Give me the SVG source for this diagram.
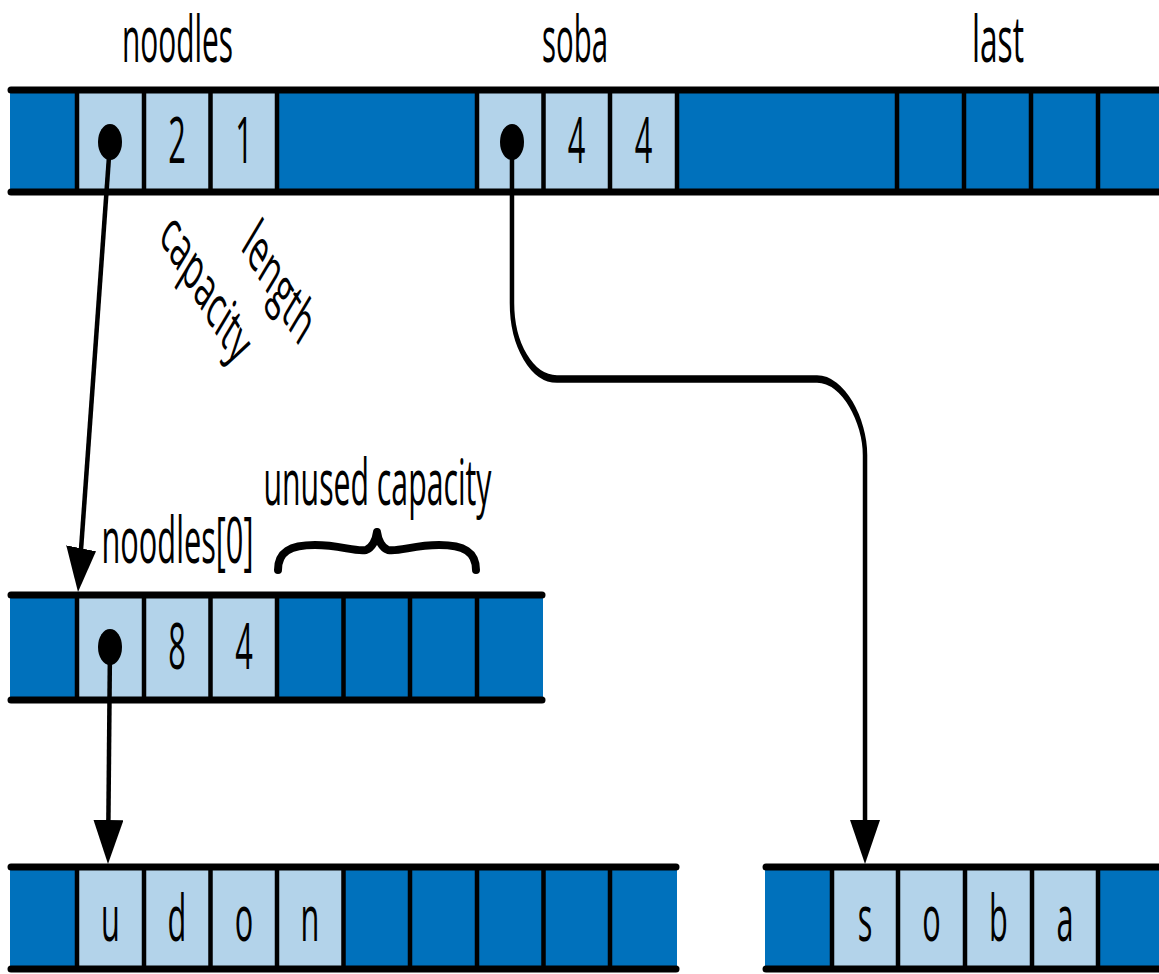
<svg xmlns="http://www.w3.org/2000/svg" width="1159" height="974" viewBox="0 0 1159 974">
<style>
.dk{fill:#0071BC}
.lt{fill:#B3D3EA}
.sep{fill:#000}
.hl{stroke:#000;stroke-width:7;stroke-linecap:round}
.t{font-family:"Open Sans","Liberation Sans",sans-serif;font-size:64px;fill:#000}
.wire{fill:none;stroke:#000;stroke-width:7.5}
.brace{fill:none;stroke:#000;stroke-width:8;stroke-linecap:round;stroke-linejoin:round}
</style>
<defs>
<marker id="ah" markerUnits="userSpaceOnUse" markerWidth="44" markerHeight="50" viewBox="0 -25 44 50" refX="24" refY="0" orient="auto">
<path d="M0,-25 L44,0 L0,25 z" fill="#000"/>
</marker>
</defs>

<g id="labels">
<text class="t" x="177.5" y="62" text-anchor="middle" textLength="111" lengthAdjust="spacingAndGlyphs">noodles</text>
<text class="t" x="575" y="62" text-anchor="middle" textLength="66" lengthAdjust="spacingAndGlyphs">soba</text>
<text class="t" x="998" y="62" text-anchor="middle" textLength="52" lengthAdjust="spacingAndGlyphs">last</text>
<text class="t" transform="translate(158 238) scale(0.6 1) rotate(45)" textLength="184" lengthAdjust="spacingAndGlyphs">capacity</text>
<text class="t" transform="translate(240 248) scale(0.6 1) rotate(45)" textLength="141" lengthAdjust="spacingAndGlyphs">length</text>
<text class="t" x="177.5" y="563" text-anchor="middle" textLength="152" lengthAdjust="spacingAndGlyphs">noodles[0]</text>
<text class="t" x="377.5" y="505" text-anchor="middle" textLength="228" lengthAdjust="spacingAndGlyphs">unused capacity</text>
<path class="brace" d="M278 570 C278 552 290 545 315 545 C340 545 355 552 366 550 C372 548 376 540 377 532 C378 540 382 548 388 550 C399 552 414 545 439 545 C464 545 476 552 476 570"/>
</g>

<g id="stack-row">
<rect class="dk" x="10" y="90" width="1160" height="102"/>
<rect class="lt" x="77" y="90" width="200" height="102"/>
<rect class="lt" x="477" y="90" width="200" height="102"/>
<rect class="sep" x="74.75" y="90" width="4.5" height="102"/>
<rect class="sep" x="141.75" y="90" width="4.5" height="102"/>
<rect class="sep" x="208.25" y="90" width="4.5" height="102"/>
<rect class="sep" x="274.75" y="90" width="4.5" height="102"/>
<rect class="sep" x="474.75" y="90" width="4.5" height="102"/>
<rect class="sep" x="541.25" y="90" width="4.5" height="102"/>
<rect class="sep" x="607.75" y="90" width="4.5" height="102"/>
<rect class="sep" x="674.75" y="90" width="4.5" height="102"/>
<rect class="sep" x="894.75" y="90" width="4.5" height="102"/>
<rect class="sep" x="961.75" y="90" width="4.5" height="102"/>
<rect class="sep" x="1028.75" y="90" width="4.5" height="102"/>
<rect class="sep" x="1095.75" y="90" width="4.5" height="102"/>
<line class="hl" x1="11" y1="90" x2="1175" y2="90"/>
<line class="hl" x1="11" y1="192" x2="1175" y2="192"/>
<text class="t" text-anchor="middle" transform="translate(177 163) scale(0.48 1)">2</text>
<text class="t" text-anchor="middle" transform="translate(244 163) scale(0.48 1)">1</text>
<text class="t" text-anchor="middle" transform="translate(576.5 163) scale(0.48 1)">4</text>
<text class="t" text-anchor="middle" transform="translate(643.5 163) scale(0.48 1)">4</text>
</g>

<g id="noodles-buffer">
<rect class="dk" x="10" y="595" width="533" height="105"/>
<rect class="lt" x="77" y="595" width="200" height="105"/>
<rect class="sep" x="74.75" y="595" width="4.5" height="105"/>
<rect class="sep" x="141.75" y="595" width="4.5" height="105"/>
<rect class="sep" x="208.25" y="595" width="4.5" height="105"/>
<rect class="sep" x="274.75" y="595" width="4.5" height="105"/>
<rect class="sep" x="341.25" y="595" width="4.5" height="105"/>
<rect class="sep" x="407.75" y="595" width="4.5" height="105"/>
<rect class="sep" x="474.75" y="595" width="4.5" height="105"/>
<line class="hl" x1="11" y1="595" x2="542" y2="595"/>
<line class="hl" x1="11" y1="700" x2="542" y2="700"/>
<text class="t" text-anchor="middle" transform="translate(177 669) scale(0.48 1)">8</text>
<text class="t" text-anchor="middle" transform="translate(244 669) scale(0.48 1)">4</text>
</g>

<g id="udon-buffer">
<rect class="dk" x="10" y="867" width="667" height="102"/>
<rect class="lt" x="77" y="867" width="266.5" height="102"/>
<rect class="sep" x="74.75" y="867" width="4.5" height="102"/>
<rect class="sep" x="141.75" y="867" width="4.5" height="102"/>
<rect class="sep" x="208.25" y="867" width="4.5" height="102"/>
<rect class="sep" x="274.75" y="867" width="4.5" height="102"/>
<rect class="sep" x="341.25" y="867" width="4.5" height="102"/>
<rect class="sep" x="407.75" y="867" width="4.5" height="102"/>
<rect class="sep" x="474.75" y="867" width="4.5" height="102"/>
<rect class="sep" x="541.25" y="867" width="4.5" height="102"/>
<rect class="sep" x="607.75" y="867" width="4.5" height="102"/>
<line class="hl" x1="11" y1="867" x2="676" y2="867"/>
<line class="hl" x1="11" y1="969" x2="676" y2="969"/>
<text class="t" text-anchor="middle" transform="translate(110.5 941) scale(0.48 1)">u</text>
<text class="t" text-anchor="middle" transform="translate(177 941) scale(0.48 1)">d</text>
<text class="t" text-anchor="middle" transform="translate(244 941) scale(0.48 1)">o</text>
<text class="t" text-anchor="middle" transform="translate(310 941) scale(0.48 1)">n</text>
</g>

<g id="soba-buffer">
<rect class="dk" x="765" y="867" width="400" height="102"/>
<rect class="lt" x="832" y="867" width="266" height="102"/>
<rect class="sep" x="829.75" y="867" width="4.5" height="102"/>
<rect class="sep" x="895.75" y="867" width="4.5" height="102"/>
<rect class="sep" x="962.75" y="867" width="4.5" height="102"/>
<rect class="sep" x="1029.75" y="867" width="4.5" height="102"/>
<rect class="sep" x="1095.75" y="867" width="4.5" height="102"/>
<line class="hl" x1="766" y1="867" x2="1175" y2="867"/>
<line class="hl" x1="766" y1="969" x2="1175" y2="969"/>
<text class="t" text-anchor="middle" transform="translate(865 941) scale(0.48 1)">s</text>
<text class="t" text-anchor="middle" transform="translate(931.5 941) scale(0.48 1)">o</text>
<text class="t" text-anchor="middle" transform="translate(998.5 941) scale(0.48 1)">b</text>
<text class="t" text-anchor="middle" transform="translate(1065 941) scale(0.48 1)">a</text>
</g>

<g id="connectors">
<g transform="scale(0.6 1)">
<path class="wire" marker-end="url(#ah)" d="M183.3 143 L132.36 572.14"/>
<path class="wire" marker-end="url(#ah)" d="M183.3 647 L180.3 844"/>
<path class="wire" marker-end="url(#ah)" d="M853.3 143 V303 C853.3 345 886.7 379 928.3 379 H1361.7 C1405.8 379 1441.7 421 1441.7 455 V844"/>
</g>
<ellipse cx="110" cy="142" rx="12" ry="18" fill="#000"/>
<ellipse cx="512" cy="142" rx="12" ry="18" fill="#000"/>
<ellipse cx="110" cy="647" rx="12" ry="18" fill="#000"/>
</g>
</svg>
